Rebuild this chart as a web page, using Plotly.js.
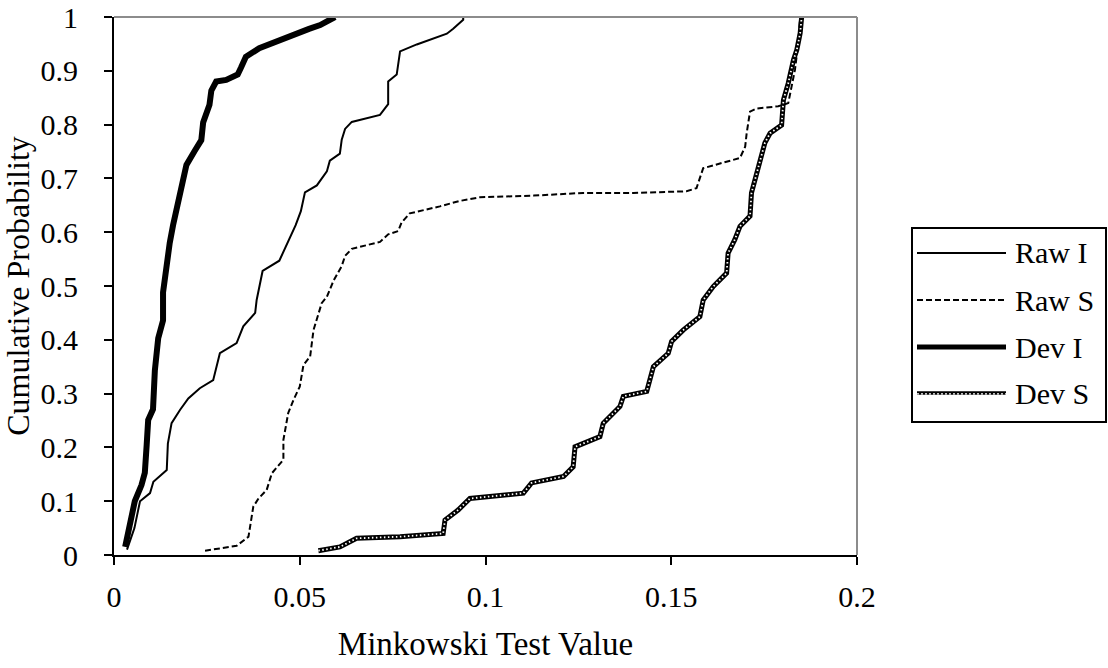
<!DOCTYPE html>
<html>
<head>
<meta charset="utf-8">
<script src="https://cdn.plot.ly/plotly-3.0.1.min.js"></script>
<style>
  html, body { margin: 0; padding: 0; background: #ffffff; }
  #chart { width: 1108px; height: 668px; }
</style>
</head>
<body>
<div id="chart"></div>
<script>
// ---------------- data ----------------
const seriesNames = ["Raw I", "Raw S", "Dev I", "Dev S"];

const rawIx = [0.0035, 0.0055, 0.007, 0.0097, 0.0106, 0.0142, 0.0145, 0.0155, 0.0178, 0.02, 0.0231, 0.0267, 0.0285, 0.033, 0.0348, 0.038, 0.0384, 0.04, 0.0445, 0.0463, 0.0476, 0.0489, 0.0503, 0.0514, 0.0546, 0.0559, 0.0573, 0.0581, 0.0608, 0.0613, 0.0622, 0.064, 0.0716, 0.0738, 0.0738, 0.0761, 0.077, 0.0815, 0.0896, 0.0913, 0.094, 0.094];
const rawIy = [0.01, 0.05, 0.1, 0.115, 0.136, 0.158, 0.207, 0.245, 0.27, 0.291, 0.31, 0.325, 0.375, 0.394, 0.425, 0.45, 0.474, 0.528, 0.547, 0.574, 0.593, 0.613, 0.639, 0.674, 0.687, 0.70, 0.713, 0.733, 0.746, 0.772, 0.792, 0.805, 0.818, 0.838, 0.88, 0.893, 0.936, 0.949, 0.969, 0.978, 0.995, 1.0];

const rawSx = [0.0245, 0.033, 0.0362, 0.0366, 0.0375, 0.0389, 0.0411, 0.0425, 0.0456, 0.0456, 0.0469, 0.0483, 0.05, 0.051, 0.0528, 0.0537, 0.0559, 0.0573, 0.0591, 0.0613, 0.0622, 0.064, 0.0716, 0.0738, 0.0765, 0.0774, 0.0796, 0.0877, 0.093, 0.0985, 0.1129, 0.1263, 0.1398, 0.1541, 0.1568, 0.1586, 0.1667, 0.1685, 0.1699, 0.1703, 0.1712, 0.173, 0.1788, 0.1815, 0.1824, 0.1833, 0.1842, 0.1847];
const rawSy = [0.008, 0.017, 0.034, 0.053, 0.09, 0.105, 0.121, 0.152, 0.177, 0.214, 0.264, 0.288, 0.313, 0.353, 0.369, 0.418, 0.468, 0.48, 0.51, 0.537, 0.556, 0.569, 0.582, 0.596, 0.602, 0.618, 0.635, 0.648, 0.658, 0.665, 0.668, 0.673, 0.673, 0.676, 0.682, 0.719, 0.735, 0.738, 0.759, 0.784, 0.824, 0.83, 0.834, 0.84, 0.871, 0.902, 0.952, 1.0];

const devIx = [0.003, 0.0043, 0.0056, 0.0074, 0.0083, 0.0088, 0.0092, 0.0105, 0.011, 0.0119, 0.0132, 0.0132, 0.0141, 0.015, 0.0159, 0.0172, 0.0181, 0.0195, 0.0217, 0.0235, 0.024, 0.0257, 0.0262, 0.0275, 0.0302, 0.0333, 0.0342, 0.0355, 0.0391, 0.0436, 0.0489, 0.0525, 0.0555, 0.0595];
const devIy = [0.015, 0.06, 0.1, 0.13, 0.153, 0.205, 0.251, 0.271, 0.343, 0.403, 0.436, 0.488, 0.541, 0.58, 0.613, 0.653, 0.686, 0.725, 0.751, 0.771, 0.804, 0.837, 0.863, 0.88, 0.883, 0.893, 0.906, 0.926, 0.942, 0.955, 0.968, 0.978, 0.985, 1.0];

const devSx = [0.055, 0.0608, 0.0653, 0.077, 0.0886, 0.0891, 0.0927, 0.0958, 0.1102, 0.1124, 0.121, 0.1236, 0.1241, 0.1308, 0.1317, 0.1362, 0.1371, 0.1434, 0.1452, 0.1492, 0.1501, 0.1532, 0.1577, 0.1586, 0.1613, 0.1649, 0.1653, 0.1671, 0.1685, 0.1712, 0.1716, 0.1734, 0.1752, 0.1766, 0.1797, 0.1802, 0.1815, 0.1829, 0.1838, 0.1847, 0.1851];
const devSy = [0.008, 0.015, 0.031, 0.034, 0.04, 0.065, 0.084, 0.105, 0.115, 0.134, 0.146, 0.164, 0.201, 0.22, 0.245, 0.276, 0.295, 0.304, 0.35, 0.375, 0.397, 0.418, 0.443, 0.474, 0.499, 0.524, 0.561, 0.586, 0.611, 0.63, 0.673, 0.722, 0.766, 0.784, 0.799, 0.846, 0.877, 0.92, 0.939, 0.97, 1.0];

const xTickVals = [0, 0.05, 0.1, 0.15, 0.2];
const yTickVals = [0, 0.1, 0.2, 0.3, 0.4, 0.5, 0.6, 0.7, 0.8, 0.9, 1];
const xTitle = "Minkowski Test Value";
const yTitle = "Cumulative Probability";

// ---------------- styling ----------------
const FONT = "'Liberation Serif', 'Times New Roman', serif";
const W = 1108, H = 668;
const M = { l: 114, r: W - 857, t: 17, b: H - 555 };
const plotW = W - M.l - M.r, plotH = H - M.t - M.b;
const px2x = px => (px - M.l) / plotW;   // pixel -> paper (x)
const py2y = py => (H - M.b - py) / plotH; // pixel -> paper (y)

const styles = {
  "Raw I": { color: "#000", width: 2, dash: "solid" },
  "Raw S": { color: "#000", width: 2, dash: "6px,3px" },
  "Dev I": { color: "#000", width: 6, dash: "solid" },
  "Dev S": { color: "#000", width: 5, dash: "solid", overlay: { color: "#fff", width: 1.8, dash: "1.5px,2.5px" } }
};

const xs = { "Raw I": rawIx, "Raw S": rawSx, "Dev I": devIx, "Dev S": devSx };
const ys = { "Raw I": rawIy, "Raw S": rawSy, "Dev I": devIy, "Dev S": devSy };

const traces = [];
seriesNames.forEach(name => {
  const s = styles[name];
  traces.push({
    type: "scatter", mode: "lines", name: name,
    x: xs[name], y: ys[name],
    line: { color: s.color, width: s.width, dash: s.dash },
    showlegend: false, hoverinfo: "x+y+name"
  });
  if (s.overlay) {
    traces.push({
      type: "scatter", mode: "lines", name: name,
      x: xs[name], y: ys[name],
      line: { color: s.overlay.color, width: s.overlay.width, dash: s.overlay.dash },
      showlegend: false, hoverinfo: "skip"
    });
  }
});

// ---------------- custom legend (shapes + annotations) ----------------
const shapes = [
  { type: "line", xref: "paper", yref: "paper", x0: 0, x1: 1, y0: 1, y1: 1, line: { color: "#8c8c8c", width: 2 } },
  { type: "line", xref: "paper", yref: "paper", x0: 1, x1: 1, y0: 0, y1: 1, line: { color: "#8c8c8c", width: 2 } },
  { type: "rect", xref: "paper", yref: "paper", x0: px2x(912), x1: px2x(1106), y0: py2y(422), y1: py2y(228),
    line: { color: "#000", width: 2 }, fillcolor: "rgba(0,0,0,0)" }
];
const annotations = [];
const rowY = [253, 300, 347, 393];
seriesNames.forEach((name, i) => {
  const s = styles[name];
  const yy = py2y(rowY[i]);
  shapes.push({ type: "line", xref: "paper", yref: "paper", x0: px2x(917), x1: px2x(1006), y0: yy, y1: yy,
    line: { color: s.color, width: name === "Dev I" ? 5 : (name === "Dev S" ? 3.5 : 2), dash: s.dash } });
  if (s.overlay) {
    shapes.push({ type: "line", xref: "paper", yref: "paper", x0: px2x(917), x1: px2x(1006), y0: yy - 0.8 / plotH, y1: yy - 0.8 / plotH,
      line: { color: "#fff", width: 1.2, dash: "2px,2px" } });
  }
  annotations.push({ xref: "paper", yref: "paper", x: px2x(1013), y: yy, xanchor: "left", yanchor: "middle",
    text: name, showarrow: false, font: { family: FONT, size: 30, color: "#000" } });
});

const layout = {
  width: W, height: H,
  margin: M,
  paper_bgcolor: "#fff", plot_bgcolor: "#fff",
  font: { family: FONT, size: 30, color: "#000" },
  showlegend: false,
  xaxis: {
    range: [0, 0.2], tickvals: xTickVals, ticktext: xTickVals.map(String),
    showgrid: false, zeroline: false,
    showline: true, linecolor: "#000", linewidth: 2,
    ticks: "outside", ticklen: 8, tickwidth: 2, tickcolor: "#000",
    tickfont: { family: FONT, size: 30, color: "#000" },
    ticklabelstandoff: 6,
    title: { text: xTitle, font: { family: FONT, size: 33, color: "#000" }, standoff: 20 },
    automargin: false, fixedrange: true
  },
  yaxis: {
    range: [0, 1], tickvals: yTickVals, ticktext: yTickVals.map(String),
    showgrid: false, zeroline: false,
    showline: true, linecolor: "#000", linewidth: 2,
    ticks: "outside", ticklen: 8, tickwidth: 2, tickcolor: "#000",
    tickfont: { family: FONT, size: 30, color: "#000" },
    ticklabelstandoff: 20,
    title: { text: yTitle, font: { family: FONT, size: 32, color: "#000" }, standoff: 10 },
    automargin: false, fixedrange: true
  },
  shapes: shapes,
  annotations: annotations
};

Plotly.newPlot("chart", traces, layout, { displayModeBar: false, staticPlot: true });
</script>
</body>
</html>
